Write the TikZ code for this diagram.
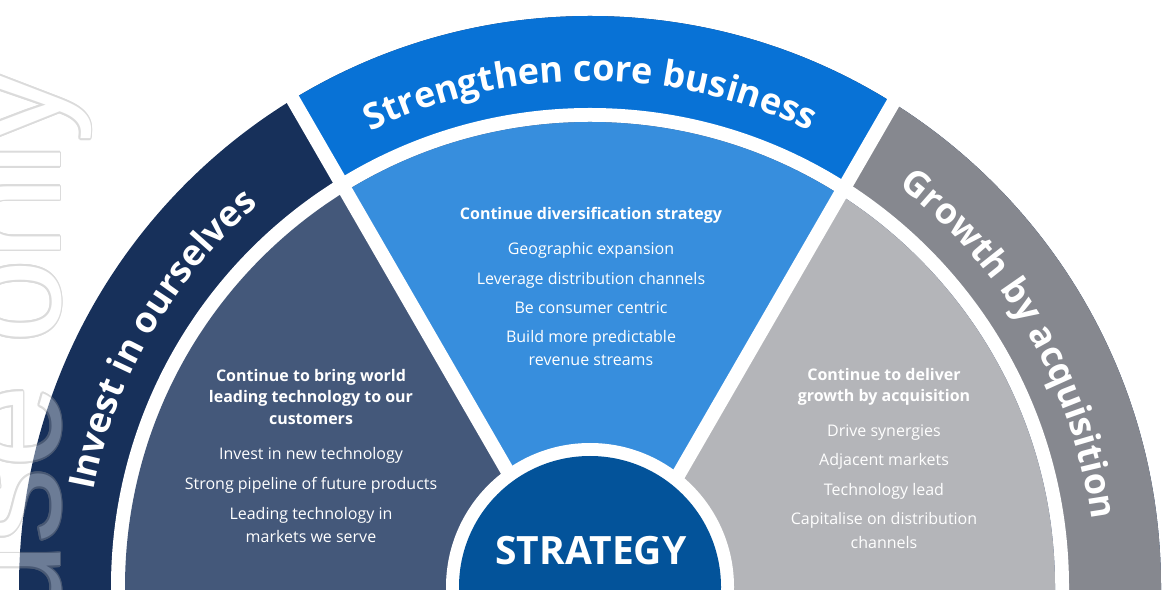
\documentclass[tikz,border=0pt]{standalone}
\usepackage{fontspec}
\setmainfont{Open Sans}
\newfontfamily\wmfont{Liberation Sans}
\usetikzlibrary{positioning, calc, decorations.text}

\definecolor{navyband}{HTML}{17305A}
\definecolor{coreblue}{HTML}{0872D6}
\definecolor{greyband}{HTML}{86888F}
\definecolor{slate}{HTML}{44587A}
\definecolor{skyblue}{HTML}{378EDD}
\definecolor{silver}{HTML}{B4B5B9}
\definecolor{hubblue}{HTML}{03539A}
\definecolor{wmline}{gray}{0.62}

\begin{document}
\begin{tikzpicture}[
    x=1pt, y=1pt,
    gap/.style={white, line width=14pt},
    arclabel/.style={decorate, decoration={text along path, text align=center,
        text color=white, text={|\bfseries\fontsize{36}{40}\selectfont|#1}}},
    head/.style={text=white, align=center, inner sep=0pt,
        font=\fontsize{16}{21.5}\selectfont\bfseries,
        execute at begin node=\strut, execute at end node=\strut},
    item/.style={text=white, align=center, inner sep=0pt,
        font=\fontsize{16}{23.5}\selectfont,
        execute at begin node=\strut, execute at end node=\strut},
    wmark/.style={rotate=90, anchor=base east, inner sep=0pt,
        font=\wmfont\fontsize{150}{150}\selectfont}
]

    \useasboundingbox (0,0) rectangle (1164,589);
    \clip (0,0) rectangle (1164,589);

    \coordinate (C) at (590,2);
    \coordinate (hub) at (594,-32);
    \coordinate (wm) at (60,521);

    % outer ring, split by the two dividers
    \fill[navyband] (C) circle[radius=571];
    \begin{scope}
        \clip (hub) -- ++(120:900) -- ++(900,0) -- cycle;
        \fill[coreblue] (C) circle[radius=571];
    \end{scope}
    \begin{scope}
        \clip (hub) -- ++(60:900) -- ++(700,0) -- ++(0,-900) -- cycle;
        \fill[greyband] (C) circle[radius=571];
    \end{scope}
    \fill[white] (C) circle[radius=479];

    % inner sectors
    \fill[slate] (C) circle[radius=465];
    \begin{scope}
        \clip (hub) -- ++(120:900) -- ++(900,0) -- cycle;
        \fill[skyblue] (C) circle[radius=465];
    \end{scope}
    \begin{scope}
        \clip (hub) -- ++(60:900) -- ++(700,0) -- ++(0,-900) -- cycle;
        \fill[silver] (C) circle[radius=465];
    \end{scope}

    \draw[gap] (hub) -- ++(120:700);
    \draw[gap] (hub) -- ++(60:700);

    % centre disc
    \fill[white] (C) circle[radius=144];
    \fill[hubblue] (C) circle[radius=131];
    \node[text=white, font=\fontsize{39}{40}\selectfont\bfseries, anchor=base]
        (strategy) at (591,24) {STRATEGY};

    % ring labels
    \path[arclabel=Invest in ourselves] ($(C)+(180:506)$)
        arc[start angle=180, end angle=120, radius=506];
    \path[arclabel=Strengthen core business] ($(C)+(120:506)$)
        arc[start angle=120, end angle=60, radius=506];
    \path[arclabel=Growth by acquisition] ($(C)+(60:506)$)
        arc[start angle=60, end angle=0, radius=506];

    % left sector
    \node[head, anchor=north] (lefthead) at (311,223)
        {\strut Continue to bring world\\leading technology to our\\customers\strut};
    \node[item, below=12pt of lefthead] (left1) {Invest in new technology};
    \node[item, below=6pt of left1] (left2) {Strong pipeline of future products};
    \node[item, below=6pt of left2] (left3) {\strut Leading technology in\\markets we serve\strut};

    % middle sector
    \node[head, anchor=north] (midhead) at (591,385) {Continue diversification strategy};
    \node[item, below=12pt of midhead] (mid1) {Geographic expansion};
    \node[item, below=6pt of mid1] (mid2) {Leverage distribution channels};
    \node[item, below=5pt of mid2] (mid3) {Be consumer centric};
    \node[item, below=5pt of mid3] (mid4) {\strut Build more predictable\\revenue streams\strut};

    % right sector
    \node[head, anchor=north] (righthead) at (884,224)
        {\strut Continue to deliver\\growth by acquisition\strut};
    \node[item, below=11pt of righthead] (right1) {Drive synergies};
    \node[item, below=6pt of right1] (right2) {Adjacent markets};
    \node[item, below=6pt of right2] (right3) {Technology lead};
    \node[item, below=5pt of right3] (right4) {\strut Capitalise on distribution\\channels\strut};

    % outlined watermark
    \begin{scope}[transparency group, opacity=0.37]
        \foreach \a in {0,30,...,330}
            \node[wmark, text=wmline] at ($(wm)+(\a:1.8)$) {use only};
        \node[wmark, text=white] at (wm) {use only};
    \end{scope}

\end{tikzpicture}
\end{document}
